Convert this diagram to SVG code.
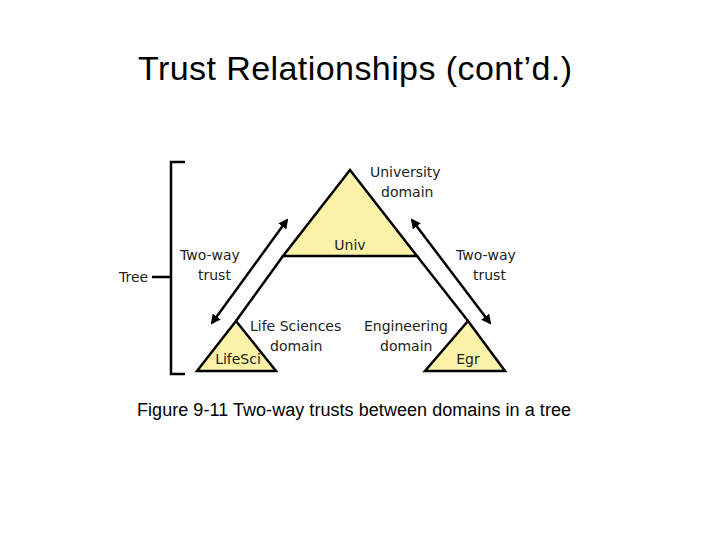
<svg xmlns="http://www.w3.org/2000/svg" width="720" height="540" viewBox="0 0 720 540">
<style>
.t{font-family:"DejaVu Sans",sans-serif;font-size:14px;fill:#222}
.tri{fill:#fcf3a8;stroke:#000;stroke-width:2.5;stroke-linejoin:miter}
.ln{stroke:#000;stroke-width:2.5;fill:none}
</style>
<defs><marker id="ah" viewBox="0 0 10 10" refX="8" refY="5" markerWidth="4" markerHeight="4" orient="auto-start-reverse"><path d="M0,0L10,5L0,10z" fill="#000"/></marker></defs>
<rect width="720" height="540" fill="#fff"/>
<text x="355" y="80" text-anchor="middle" font-family="Liberation Sans,Arial,sans-serif" font-size="34" textLength="434">Trust Relationships (cont’d.)</text>
<g id="bracket"><path class="ln" d="M185,162H171V374H185M152,277H171" stroke-width="2"/><text class="t" x="119" y="282">Tree</text></g>
<g id="univ"><polygon class="tri" points="350,170 283,256 417,256"/><text class="t" x="350" y="250" text-anchor="middle">Univ</text><text class="t" x="370" y="177">University</text><text class="t" x="381" y="197">domain</text></g>
<g id="lifesci"><polygon class="tri" points="236,321 197,371 276,371"/><text class="t" x="238" y="364" text-anchor="middle">LifeSci</text><text class="t" x="250" y="331">Life Sciences</text><text class="t" x="270" y="351">domain</text></g>
<g id="egr"><polygon class="tri" points="468,321 425,371 505,371"/><text class="t" x="468" y="364" text-anchor="middle">Egr</text><text class="t" x="364" y="331">Engineering</text><text class="t" x="380" y="351">domain</text></g>
<g id="connectors">
<path class="ln" d="M283,256L236,321M417,256L468,321"/>
<path class="ln" d="M287,220L212,323" marker-start="url(#ah)" marker-end="url(#ah)"/>
<path class="ln" d="M412,220L490,323" marker-start="url(#ah)" marker-end="url(#ah)"/>
<text class="t" x="180" y="260">Two-way</text><text class="t" x="198" y="280">trust</text>
<text class="t" x="456" y="260">Two-way</text><text class="t" x="473" y="280">trust</text>
</g>
<text x="354" y="416" text-anchor="middle" font-family="Liberation Sans,Arial,sans-serif" font-size="18" textLength="434">Figure 9-11 Two-way trusts between domains in a tree</text>
</svg>
